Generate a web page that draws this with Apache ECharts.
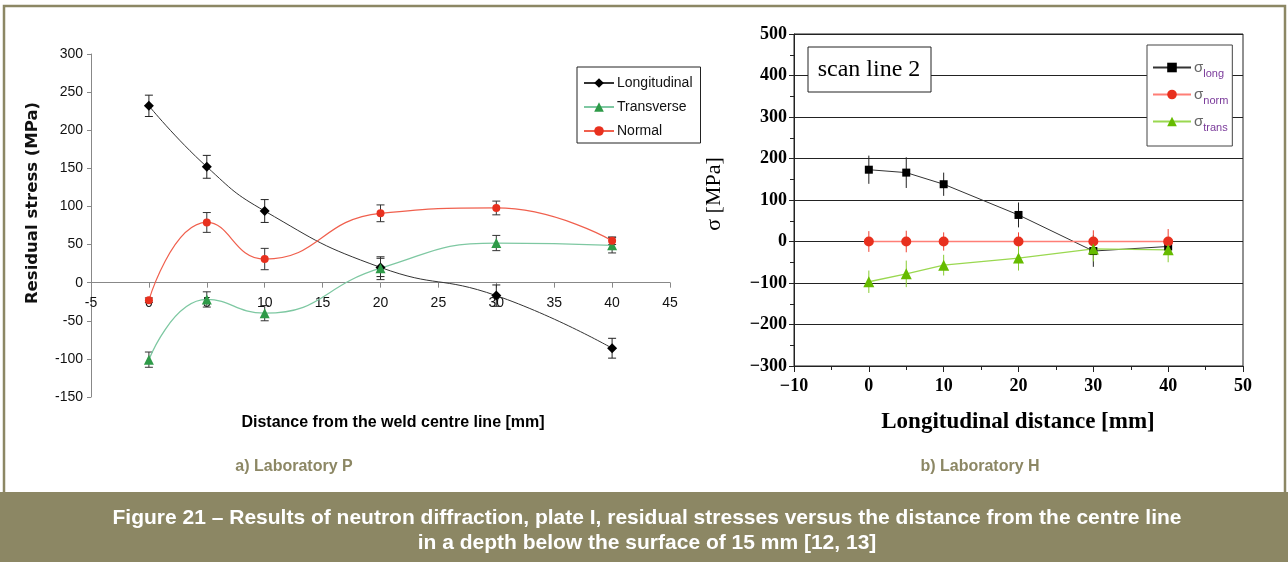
<!DOCTYPE html>
<html><head><meta charset="utf-8">
<script src="https://cdn.jsdelivr.net/npm/echarts@6/dist/echarts.min.js"></script>
<style>html,body{margin:0;padding:0;background:#fff}#c{width:1288px;height:562px}</style>
</head><body><div id="c"></div>
<script>
// ---- Laboratory P (left) ----
const xP = [0, 5, 10, 20, 30, 40];
const longP = [232, 152, 94, 20, -17, -86];
const longPErr = [14, 15, 15, 12, 14, 13];
const transP = [-101, -22, -40, 19, 52, 49];
const transPErr = [10, 10, 10, 15, 10, 10];
const normP = [-23, 79, 31, 91, 98, 55];
const normPErr = [3, 13, 14, 11, 9, 5];
const namesP = ['Longitudinal', 'Transverse', 'Normal'];

// ---- Laboratory H (right) ----
const xH = [0, 5, 10, 20, 30, 40];
const longH = [173, 166, 138, 64, -23, -12];
const longHErr = [34, 37, 28, 30, 38, 20];
const normH = [0, 0, 0, 0, 0, 0];
const normHErr = [25, 26, 22, 22, 27, 30];
const transH = [-97, -78, -57, -40, -18, -20];
const transHErr = [27, 32, 25, 30, 30, 30];
const namesH = ['long', 'norm', 'trans'];

const pts = (xs, ys) => xs.map((x, i) => [x, ys[i]]);
const errs = (xs, ys, es) => xs.map((x, i) => [x, ys[i], es[i]]);

function errBar(color, cap) {
  return function (params, api) {
    const x = api.value(0), y = api.value(1), e = api.value(2);
    const hi = api.coord([x, y + e]), lo = api.coord([x, y - e]);
    const ch = [{ type: 'line', shape: { x1: hi[0], y1: hi[1], x2: lo[0], y2: lo[1] }, style: { stroke: color, lineWidth: 1 } }];
    if (cap) {
      ch.push({ type: 'line', shape: { x1: hi[0] - cap, y1: hi[1], x2: hi[0] + cap, y2: hi[1] }, style: { stroke: color, lineWidth: 1 } });
      ch.push({ type: 'line', shape: { x1: lo[0] - cap, y1: lo[1], x2: lo[0] + cap, y2: lo[1] }, style: { stroke: color, lineWidth: 1 } });
    }
    return { type: 'group', children: ch };
  };
}

const olive = '#8c8764';
const sans = 'Liberation Sans, Arial, sans-serif';
const serif = 'Liberation Serif, Times New Roman, serif';
const minus = v => (v < 0 ? '\u2212' + (-v) : '' + v);

// left grid geometry: x-axis sits on y = 0
const gL = { left: 91, top: 54, width: 579, height: 343 };
const yMinL = -150, yMaxL = 300;
const zeroOffset = -gL.height * (0 - yMinL) / (yMaxL - yMinL);

const chart = echarts.init(document.getElementById('c'), null, { renderer: 'canvas' });
chart.setOption({
  animation: false,
  backgroundColor: '#fff',
  grid: [
    gL,
    { left: 794, top: 34, width: 449, height: 332, show: true, borderColor: '#222', borderWidth: 1, backgroundColor: 'transparent' }
  ],
  xAxis: [
    { gridIndex: 0, type: 'value', min: -5, max: 45, interval: 5, position: 'bottom', offset: zeroOffset,
      axisLine: { onZero: false, lineStyle: { color: '#888', width: 1 } },
      axisTick: { show: true, length: 5, lineStyle: { color: '#888' } },
      axisLabel: { fontSize: 14, color: '#111', fontFamily: sans, margin: 13 },
      splitLine: { show: false } },
    { gridIndex: 1, type: 'value', min: -10, max: 50, interval: 10,
      axisLine: { onZero: false, lineStyle: { color: '#222', width: 1 } },
      axisTick: { show: true, length: 6, lineStyle: { color: '#222' } },
      minorTick: { show: true, splitNumber: 2, length: 4, lineStyle: { color: '#222' } },
      axisLabel: { fontSize: 18, fontWeight: 'bold', color: '#000', fontFamily: serif, margin: 11, formatter: minus },
      splitLine: { show: false } }
  ],
  yAxis: [
    { gridIndex: 0, type: 'value', min: yMinL, max: yMaxL, interval: 50,
      axisLine: { show: true, onZero: false, lineStyle: { color: '#888', width: 1 } },
      axisTick: { show: true, length: 4, lineStyle: { color: '#888' } },
      axisLabel: { fontSize: 14, color: '#111', fontFamily: sans, margin: 8 },
      splitLine: { show: false } },
    { gridIndex: 1, type: 'value', min: -300, max: 500, interval: 100,
      axisLine: { show: true, onZero: false, lineStyle: { color: '#222', width: 1 } },
      axisTick: { show: true, length: 5, lineStyle: { color: '#222' } },
      minorTick: { show: true, splitNumber: 2, length: 4, lineStyle: { color: '#222' } },
      axisLabel: { fontSize: 18, fontWeight: 'bold', color: '#000', fontFamily: serif, margin: 7, formatter: minus },
      splitLine: { show: true, lineStyle: { color: '#222', width: 1 } } }
  ],
  legend: [
    { data: namesP, left: 577, top: 67, orient: 'vertical', itemWidth: 30, itemHeight: 12, itemGap: 10,
      padding: [9, 8, 5, 6], borderColor: '#222', borderWidth: 1, backgroundColor: '#fff',
      textStyle: { fontSize: 14, color: '#111', fontFamily: sans, padding: [0, 0, 0, -2] } },
    { data: namesH, left: 1147, top: 45, orient: 'vertical', itemWidth: 38, itemHeight: 12, itemGap: 8,
      padding: [15, 4, 13, 5], borderColor: '#444', borderWidth: 1, backgroundColor: '#fff',
      formatter: n => '{s|\u03c3}{b|' + n + '}',
      textStyle: { fontFamily: sans, padding: [0, 0, 0, -2],
        rich: { s: { fontSize: 15, color: '#666', fontFamily: sans },
                b: { fontSize: 11, color: '#7a3a9a', fontFamily: sans, padding: [12, 0, 0, 0] } } } }
  ],
  series: [
    // left error bars
    { type: 'custom', xAxisIndex: 0, yAxisIndex: 0, renderItem: errBar('#222', 4), data: errs(xP, longP, longPErr), z: 3, silent: true },
    { type: 'custom', xAxisIndex: 0, yAxisIndex: 0, renderItem: errBar('#333', 4), data: errs(xP, transP, transPErr), z: 3, silent: true },
    { type: 'custom', xAxisIndex: 0, yAxisIndex: 0, renderItem: errBar('#333', 4), data: errs(xP, normP, normPErr), z: 3, silent: true },
    // left lines
    { name: namesP[0], type: 'line', xAxisIndex: 0, yAxisIndex: 0, data: pts(xP, longP), smooth: 0.5,
      symbol: 'diamond', symbolSize: 10, lineStyle: { color: '#333', width: 1 }, itemStyle: { color: '#000' }, z: 4 },
    { name: namesP[1], type: 'line', xAxisIndex: 0, yAxisIndex: 0, data: pts(xP, transP), smooth: 0.5,
      symbol: 'triangle', symbolSize: 10, lineStyle: { color: '#7ec8a2', width: 1.3 }, itemStyle: { color: '#2e9a48' }, z: 4 },
    { name: namesP[2], type: 'line', xAxisIndex: 0, yAxisIndex: 0, data: pts(xP, normP), smooth: 0.5,
      symbol: 'circle', symbolSize: 8, lineStyle: { color: '#f0604e', width: 1.2 }, itemStyle: { color: '#e8301e' }, z: 4 },
    // right error bars
    { type: 'custom', xAxisIndex: 1, yAxisIndex: 1, renderItem: errBar('#222', 0), data: errs(xH, longH, longHErr), z: 3, silent: true },
    { type: 'custom', xAxisIndex: 1, yAxisIndex: 1, renderItem: errBar('#f04030', 0), data: errs(xH, normH, normHErr), z: 3, silent: true },
    { type: 'custom', xAxisIndex: 1, yAxisIndex: 1, renderItem: errBar('#88cc33', 0), data: errs(xH, transH, transHErr), z: 3, silent: true },
    // right lines
    { name: namesH[0], type: 'line', xAxisIndex: 1, yAxisIndex: 1, data: pts(xH, longH),
      symbol: 'rect', symbolSize: 8, lineStyle: { color: '#333', width: 1 }, itemStyle: { color: '#000' }, z: 4 },
    { name: namesH[1], type: 'line', xAxisIndex: 1, yAxisIndex: 1, data: pts(xH, normH),
      symbol: 'circle', symbolSize: 10, lineStyle: { color: '#ff7e76', width: 1.3 }, itemStyle: { color: '#e8301e' }, z: 4 },
    { name: namesH[2], type: 'line', xAxisIndex: 1, yAxisIndex: 1, data: pts(xH, transH),
      symbol: 'triangle', symbolSize: 11, lineStyle: { color: '#9ad850', width: 1.3 }, itemStyle: { color: '#66bb00' }, z: 4 }
  ],
  graphic: [
    { type: 'rect', shape: { x: 4, y: 6, width: 1281, height: 488 }, style: { fill: 'none', stroke: olive, lineWidth: 2.5 }, z: 0 },
    { type: 'rect', shape: { x: 0, y: 492, width: 1288, height: 70 }, style: { fill: olive }, z: 1 },
    // left axis titles
    { type: 'text', x: 33, y: 203, rotation: Math.PI / 2, scaleX: 1.1, style: { text: 'Residual stress (MPa)', font: 'bold 15px DejaVu Sans, Verdana, sans-serif', fill: '#111', align: 'center', verticalAlign: 'middle' } },
    { type: 'text', x: 393, y: 423, style: { text: 'Distance from the weld centre line [mm]', font: 'bold 16px ' + sans, fill: '#000', align: 'center', verticalAlign: 'middle' } },
    // right axis titles
    { type: 'text', x: 714, y: 194, rotation: Math.PI / 2, style: { text: '\u03c3 [MPa]', font: '22px ' + serif, fill: '#000', align: 'center', verticalAlign: 'middle' } },
    { type: 'text', x: 1018, y: 422, style: { text: 'Longitudinal distance [mm]', font: 'bold 23px ' + serif, fill: '#000', align: 'center', verticalAlign: 'middle' } },
    // scan line box
    { type: 'rect', shape: { x: 808, y: 47, width: 123, height: 45 }, style: { fill: '#fff', stroke: '#222', lineWidth: 1 }, z: 10 },
    { type: 'text', x: 869, y: 70, style: { text: 'scan line 2', font: '24px ' + serif, fill: '#000', align: 'center', verticalAlign: 'middle' }, z: 11 },
    // subtitles
    { type: 'text', x: 294, y: 467, style: { text: 'a) Laboratory P', font: 'bold 16px ' + sans, fill: olive, align: 'center', verticalAlign: 'middle' } },
    { type: 'text', x: 980, y: 467, style: { text: 'b) Laboratory H', font: 'bold 16px ' + sans, fill: olive, align: 'center', verticalAlign: 'middle' } },
    // caption
    { type: 'text', x: 647, y: 518, z: 2, style: { text: 'Figure 21 \u2013 Results of neutron diffraction, plate I, residual stresses versus the distance from the centre line', font: 'bold 21px ' + sans, fill: '#fff', align: 'center', verticalAlign: 'middle' } },
    { type: 'text', x: 647, y: 543, z: 2, style: { text: 'in a depth below the surface of 15 mm [12, 13]', font: 'bold 21px ' + sans, fill: '#fff', align: 'center', verticalAlign: 'middle' } }
  ]
});
</script></body></html>
